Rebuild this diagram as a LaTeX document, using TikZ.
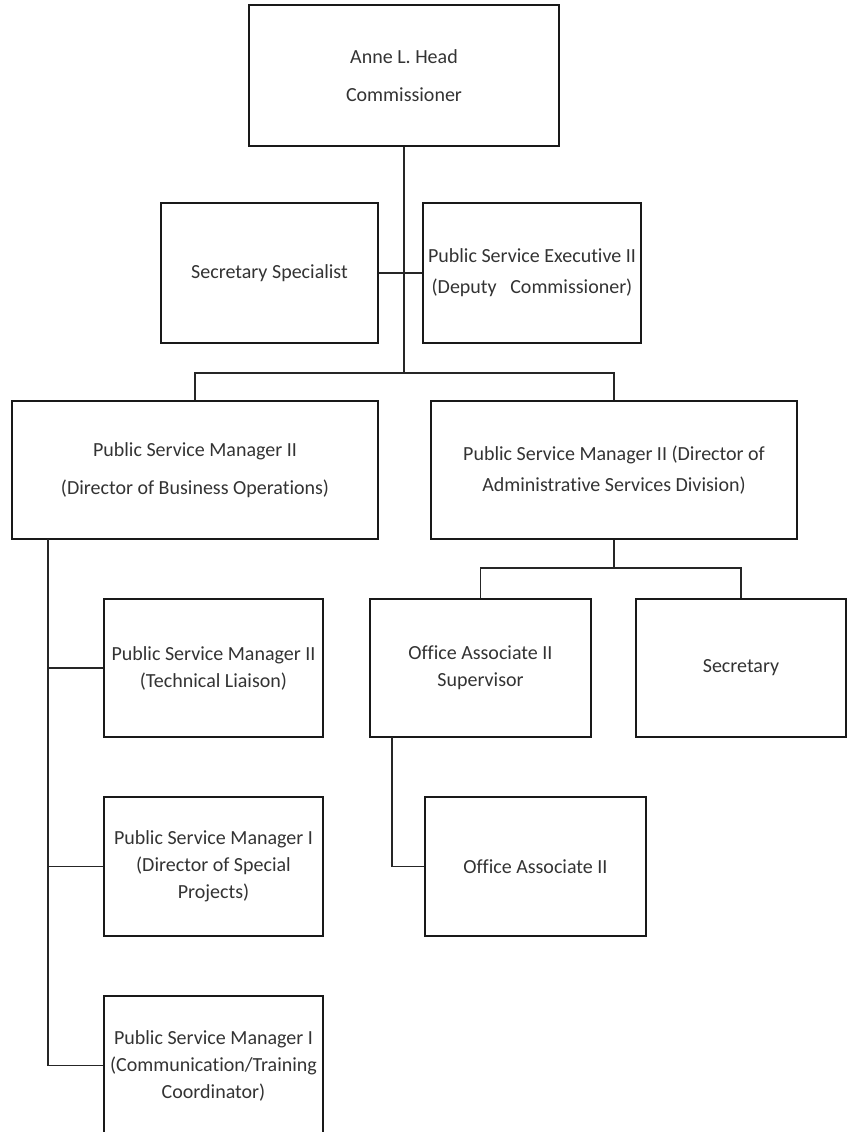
\documentclass[tikz,border=0pt]{standalone}
\usepackage{fontspec}
\setmainfont[Ligatures=NoCommon]{Carlito}
\usetikzlibrary{positioning}

\begin{document}
\begin{tikzpicture}[x=1pt, y=-1pt,
        box/.style={rectangle, draw=black!90, line width=1.6pt, minimum width=219pt, minimum height=139pt, inner sep=0pt, align=center, text=black!80, font=\fontsize{20}{27}\selectfont},
        wide/.style={box, minimum width=366pt, minimum height=138pt},
        link/.style={draw=black!85, line width=1.6pt}
    ]
        \useasboundingbox (0,0) rectangle (847,1132);
        \node[box, minimum width=310pt, minimum height=141pt] (head) at (404,75.5) {Anne L. Head\\[11pt]Commissioner};
        \node[box, minimum width=217pt, minimum height=140pt] (secspec) at (269.5,273) {Secretary Specialist};
        \node[box, minimum width=218pt, minimum height=140pt] (pse) at (532,273) {Public Service Executive II\\[4pt](Deputy\ \ \ Commissioner)};
        \node[wide] (busops) at (195,470) {Public Service Manager II\\[11pt](Director of Business Operations)};
        \node[wide] (admin) at (614,470) {Public Service Manager II (Director of\\[4pt]Administrative Services Division)};
        \node[box, minimum height=138pt] (techl) at (213.5,668) {Public Service Manager II\\(Technical Liaison)};
        \node[box, minimum width=221pt, minimum height=138pt] (oasup) at (480.5,668) {Office Associate II\\Supervisor};
        \node[box, minimum width=210pt, minimum height=138pt] (secr) at (741,668) {Secretary};
        \node[box] (specp) at (213.5,866.5) {Public Service Manager I\\(Director of Special\\Projects)};
        \node[box, minimum width=221pt] (oa) at (535.5,866.5) {Office Associate II};
        \node[box] (comm) at (213.5,1065.5) {Public Service Manager I\\(Communication/Training\\Coordinator)};
        % junctions
        \coordinate (hub) at (404,373);
        \coordinate (admhub) at (614,568);
        \coordinate (opsline) at (48,539);
        \coordinate (supline) at (392,737);
        \draw[link] (head.south) -- (hub);
        \draw[link] (secspec.east) -- (pse.west);
        \draw[link] (busops.north) |- (hub) -| (admin.north);
        \draw[link] (admin.south) -- (admhub);
        \draw[link] (oasup.north) |- (admhub) -| (secr.north);
        \draw[link] (opsline) |- (comm.west);
        \draw[link] (techl.west) -- (techl.west -| opsline);
        \draw[link] (specp.west) -- (specp.west -| opsline);
        \draw[link] (supline) |- (oa.west);
    \end{tikzpicture}
\end{document}
